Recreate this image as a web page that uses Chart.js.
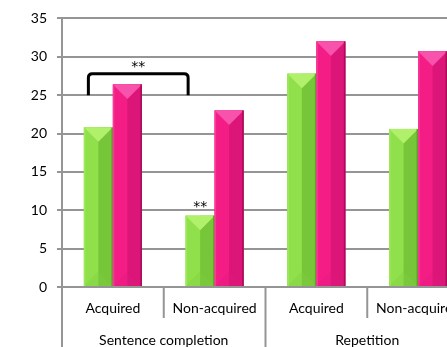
<!DOCTYPE html>
<html><head><meta charset="utf-8">
<script src="https://cdn.jsdelivr.net/npm/chart.js@4/dist/chart.umd.min.js"></script>
<style>
html,body{margin:0;padding:0;background:#fff;overflow:hidden;width:447px;height:347px;}
#wrap{position:absolute;left:0;top:0;width:480px;height:347px;}
</style></head>
<body>
<div id="wrap"><canvas id="c" width="480" height="347"></canvas></div>
<script>
const categories = ['Acquired','Non-acquired','Acquired','Non-acquired'];
const groups = ['Sentence completion','Repetition'];
const groupSpans = [[0,1],[2,3]];
const seriesA = [20.8, 9.3, 27.8, 20.6];
const seriesB = [26.4, 23.0, 32.0, 30.7];
const yTicks = [0,5,10,15,20,25,30,35];
const bracketY = [25, 27.8];
const bracketLabel = '**';
const singleMarks = [{series:0, index:1, text:'**'}];

const FONT = 'Lato, "Open Sans", sans-serif';
const STAR_FONT = '14px "DejaVu Sans", sans-serif';
const GRID = '#959595';

const palette = [
  {left:'#8fe04a', right:'#77c63a', top:'#b0f06a', bottom:'#80cc40', edgeL:'#9ce85a', edgeR:'#5e9e2a'},
  {left:'#f41d86', right:'#dc1578', top:'#f752ac', bottom:'#e01a7e', edgeL:'#f83a96', edgeR:'#a80d5a'}
];

const bevelPlugin = {
  id:'bevel',
  afterDatasetsDraw(chart){
    const ctx = chart.ctx;
    chart.data.datasets.forEach((ds,di)=>{
      const meta = chart.getDatasetMeta(di);
      const p = palette[di];
      meta.data.forEach(el=>{
        const w = el.width, l = el.x - w/2, r = el.x + w/2, t = el.y, b = el.base;
        const d = Math.min(w/2, b - t);
        ctx.save();
        ctx.fillStyle = p.left; ctx.fillRect(l, t, w/2, b-t);
        ctx.fillStyle = p.right; ctx.fillRect(el.x, t, w/2, b-t);
        ctx.fillStyle = p.bottom;
        ctx.beginPath(); ctx.moveTo(l,b); ctx.lineTo(r,b); ctx.lineTo(el.x, b-d); ctx.closePath(); ctx.globalAlpha=0.35; ctx.fill(); ctx.globalAlpha=1;
        ctx.fillStyle = p.top;
        ctx.beginPath(); ctx.moveTo(l,t); ctx.lineTo(r,t); ctx.lineTo(el.x, t+d); ctx.closePath(); ctx.fill();
        ctx.fillStyle = p.edgeL; ctx.fillRect(l, t, 1.5, b-t);
        ctx.fillStyle = p.edgeR; ctx.fillRect(r-1.5, t, 1.5, b-t);
        ctx.restore();
      });
    });
  }
};

const axisPlugin = {
  id:'twoLevelAxis',
  afterDraw(chart){
    const ctx = chart.ctx, ca = chart.chartArea, xs = chart.scales.x;
    const H = chart.height;
    const half = (xs.getPixelForValue(1) - xs.getPixelForValue(0))/2;
    ctx.save();
    ctx.strokeStyle = GRID; ctx.lineWidth = 2;
    ctx.beginPath(); ctx.moveTo(ca.left, ca.bottom); ctx.lineTo(ca.left, H); ctx.stroke();
    categories.forEach((c,i)=>{
      const xr = xs.getPixelForValue(i) + half;
      const isGroupEdge = groupSpans.some(g=>g[1]===i);
      ctx.beginPath(); ctx.moveTo(xr, ca.bottom); ctx.lineTo(xr, isGroupEdge ? H : ca.bottom + 31); ctx.stroke();
    });
    ctx.fillStyle = '#000';
    ctx.font = '14px ' + FONT;
    ctx.textAlign = 'center'; ctx.textBaseline = 'middle';
    categories.forEach((c,i)=>{ ctx.fillText(c, xs.getPixelForValue(i), ca.bottom + 21); });
    groups.forEach((g,gi)=>{
      const [a,b] = groupSpans[gi];
      const cx = (xs.getPixelForValue(a) + xs.getPixelForValue(b))/2;
      ctx.fillText(g, cx, ca.bottom + 53);
    });
    ctx.restore();
  }
};

const annotPlugin = {
  id:'annot',
  afterDatasetsDraw(chart){
    const ctx = chart.ctx, ys = chart.scales.y;
    const g0 = chart.getDatasetMeta(0).data[0], g1 = chart.getDatasetMeta(0).data[1];
    const xl = g0.x - 10, xr = g1.x - 12;
    const yb = ys.getPixelForValue(bracketY[0]), yt = ys.getPixelForValue(bracketY[1]);
    ctx.save();
    ctx.strokeStyle = '#000'; ctx.lineWidth = 3; ctx.lineJoin='round';
    const rad = 4;
    ctx.beginPath();
    ctx.moveTo(xl, yb);
    ctx.lineTo(xl, yt + rad);
    ctx.quadraticCurveTo(xl, yt, xl + rad, yt);
    ctx.lineTo(xr - rad, yt);
    ctx.quadraticCurveTo(xr, yt, xr, yt + rad);
    ctx.lineTo(xr, yb);
    ctx.stroke();
    ctx.fillStyle = '#000'; ctx.font = STAR_FONT;
    ctx.textAlign = 'center'; ctx.textBaseline = 'alphabetic';
    ctx.fillText(bracketLabel, (xl+xr)/2, yt - 3);
    singleMarks.forEach(m=>{
      const el = chart.getDatasetMeta(m.series).data[m.index];
      ctx.fillText(m.text, el.x, el.y - 5);
    });
    ctx.restore();
  }
};

new Chart(document.getElementById('c'), {
  type:'bar',
  data:{
    labels: categories,
    datasets:[
      {data: seriesA, backgroundColor: palette[0].left, borderWidth:0},
      {data: seriesB, backgroundColor: palette[1].left, borderWidth:0}
    ]
  },
  options:{
    responsive:false, animation:false, devicePixelRatio:1,
    layout:{padding:{top:4, right:11, left:0, bottom:0}},
    plugins:{legend:{display:false}, tooltip:{enabled:false}},
    datasets:{bar:{categoryPercentage:0.57, barPercentage:1.0}},
    scales:{
      x:{
        ticks:{display:false},
        grid:{display:false},
        border:{display:false},
        afterFit(s){ s.height = 60; }
      },
      y:{
        min:0, max:35,
        afterBuildTicks(s){ s.ticks = yTicks.map(v=>({value:v})); },
        ticks:{font:{family:FONT, size:14}, color:'#000', padding:10},
        grid:{color:GRID, lineWidth:2, tickLength:5},
        border:{color:GRID, width:2},
        afterFit(s){ s.width = 62; }
      }
    }
  },
  plugins:[bevelPlugin, annotPlugin, axisPlugin]
});
</script>
</body></html>
